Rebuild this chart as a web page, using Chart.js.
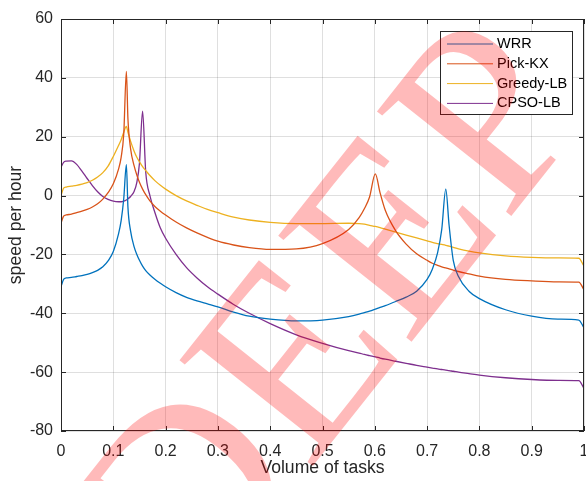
<!DOCTYPE html>
<html>
<head>
<meta charset="utf-8">
<script src="https://cdn.jsdelivr.net/npm/chart.js@4.4.0/dist/chart.umd.min.js"></script>
<style>
  html, body { margin: 0; padding: 0; background: #fff; }
</style>
</head>
<body>
<canvas id="myChart" width="586" height="481"></canvas>
<script>
// Data
const xValues = [0, 0.005, 0.01, 0.02, 0.03, 0.04, 0.05, 0.06, 0.07, 0.08, 0.09, 0.1, 0.11, 0.115, 0.12, 0.125, 0.128, 0.133, 0.14, 0.145, 0.15, 0.156, 0.162, 0.17, 0.18, 0.19, 0.2, 0.22, 0.24, 0.26, 0.28, 0.3, 0.33, 0.36, 0.4, 0.45, 0.5, 0.55, 0.57, 0.58, 0.59, 0.601, 0.61, 0.62, 0.64, 0.66, 0.68, 0.7, 0.71, 0.72, 0.728, 0.7357, 0.742, 0.75, 0.76, 0.78, 0.8, 0.85, 0.9, 0.95, 0.99, 1];

const wrr = [-31, -28.5, -28, -27.8, -27.5, -27.2, -26.8, -26.2, -25.4, -24.2, -22.2, -19, -13, -8.5, -1, 10.5, -4, -12, -17.5, -20, -22, -24, -25.5, -27, -28.5, -29.8, -31, -33, -34.6, -35.8, -36.8, -37.8, -39.6, -41, -42, -42.6, -42.3, -41.1, -40.3, -39.8, -39.3, -38.6, -38, -37.4, -36, -34.5, -32.5, -28.5, -25, -19.5, -11.5, 2.2, -10, -22, -27.5, -32.5, -35, -38.8, -41, -42, -42.3, -45];

const pickKX = [-9.4, -7, -6.6, -6.3, -5.8, -5.3, -4.7, -3.9, -2.8, -1.2, 1, 4, 9, 13, 21, 42.2, 26, 16, 10, 7, 4.5, 2.2, 0.3, -1.8, -3.8, -5.3, -6.6, -9, -11, -12.7, -14.2, -15.5, -16.8, -17.7, -18.3, -18.1, -16.3, -11.5, -7.5, -4.5, -0.5, 7.4, 1, -5, -12, -16.5, -19.8, -22, -23, -23.7, -24.2, -24.6, -24.9, -25.3, -25.8, -26.6, -27.4, -28.5, -29, -29.3, -29.4, -32];

const greedyLB = [0, 2.5, 2.9, 3.2, 3.5, 3.9, 4.4, 5.2, 6.3, 7.8, 10, 13.3, 17, 19, 21.5, 23.5, 21.5, 18.5, 15, 13, 11.5, 9.8, 8.5, 6.8, 5, 3.5, 2.2, 0, -1.8, -3.3, -4.7, -5.8, -7.3, -8.3, -9.1, -9.5, -9.5, -9.4, -9.5, -9.7, -10.1, -10.5, -10.9, -11.4, -12.4, -13.4, -14.4, -15.4, -15.9, -16.3, -16.6, -16.9, -17.2, -17.6, -18.1, -18.9, -19.5, -20.5, -21, -21.2, -21.3, -24];

const cpsoLB = [9.6, 11.3, 11.7, 11.8, 10.6, 8.3, 5.8, 3.4, 1.3, -0.3, -1.3, -1.9, -2.1, -2.1, -1.9, -1.5, -1.1, -0.3, 1.5, 4.5, 11, 28.7, 8, 0, -6, -11, -14.5, -20, -24.5, -28, -31, -33.5, -37, -40, -43.5, -47.3, -50.2, -52.7, -53.5, -54, -54.4, -54.8, -55.2, -55.6, -56.3, -57, -57.7, -58.3, -58.6, -58.9, -59.1, -59.3, -59.5, -59.7, -60, -60.5, -61, -61.9, -62.5, -62.8, -62.9, -65.5];

const seriesNames = ['WRR', 'Pick-KX', 'Greedy-LB', 'CPSO-LB'];
const seriesColors = ['#0072BD', '#D95319', '#EDB120', '#7E2F8E'];
const xTicks = [0, 0.1, 0.2, 0.3, 0.4, 0.5, 0.6, 0.7, 0.8, 0.9, 1];
const yTicks = [-80, -60, -40, -20, 0, 20, 40, 60];

const FONT = '"Liberation Sans", Arial, sans-serif';
const INK = '#262626';

function toPoints(ys) {
  return xValues.map((x, i) => ({ x: x, y: ys[i] }));
}

// MATLAB style box with inward ticks, plus the legend
const axesBox = {
  id: 'axesBox',
  afterDatasetsDraw(chart) {
    const { ctx, chartArea: a, scales } = chart;
    ctx.save();
    ctx.strokeStyle = INK;
    ctx.lineWidth = 1;
    ctx.strokeRect(a.left + 0.5, a.top + 0.5, a.right - a.left - 1, a.bottom - a.top - 1);
    ctx.beginPath();
    xTicks.forEach(v => {
      const px = Math.round(scales.x.getPixelForValue(v)) + 0.5;
      ctx.moveTo(px, a.bottom); ctx.lineTo(px, a.bottom - 5);
      ctx.moveTo(px, a.top); ctx.lineTo(px, a.top + 5);
    });
    yTicks.forEach(v => {
      const py = Math.round(scales.y.getPixelForValue(v)) + 0.5;
      ctx.moveTo(a.left, py); ctx.lineTo(a.left + 5, py);
      ctx.moveTo(a.right, py); ctx.lineTo(a.right - 5, py);
    });
    ctx.stroke();

    // legend box
    const lx = 440.5, ly = 31.5, lw = 132, lh = 83;
    ctx.fillStyle = '#fff';
    ctx.fillRect(lx, ly, lw, lh);
    ctx.strokeRect(lx, ly, lw, lh);
    ctx.font = '14.5px ' + FONT;
    ctx.textBaseline = 'middle';
    ctx.textAlign = 'left';
    chart.data.datasets.forEach((ds, i) => {
      const ry = 44 + i * 19.8;
      ctx.strokeStyle = ds.borderColor;
      ctx.beginPath();
      ctx.moveTo(447, ry); ctx.lineTo(493, ry);
      ctx.stroke();
      ctx.fillStyle = '#000';
      ctx.fillText(ds.label, 497, ry);
    });
    ctx.restore();
  }
};

// red watermark over the whole figure
const watermark = {
  id: 'watermark',
  afterDraw(chart) {
    const { ctx } = chart;
    ctx.save();
    ctx.translate(340, 322);
    ctx.rotate(-0.9);
    ctx.fillStyle = 'rgba(255, 0, 0, 0.27)';
    ctx.font = '260px "Liberation Serif", serif';
    ctx.textAlign = 'center';
    ctx.textBaseline = 'middle';
    ctx.fillText('DEEP', 0, 0);
    ctx.restore();
  }
};

const ctx = document.getElementById('myChart').getContext('2d');

new Chart(ctx, {
  type: 'line',
  data: {
    datasets: [wrr, pickKX, greedyLB, cpsoLB].map((ys, i) => ({
      label: seriesNames[i],
      data: toPoints(ys),
      borderColor: seriesColors[i],
      borderWidth: 1.3,
      pointRadius: 0,
      fill: false,
      cubicInterpolationMode: 'monotone'
    }))
  },
  options: {
    responsive: false,
    animation: false,
    layout: { padding: { top: 19, right: 2, left: 0, bottom: 0 } },
    plugins: {
      legend: { display: false },
      tooltip: { enabled: false }
    },
    scales: {
      x: {
        type: 'linear',
        min: 0,
        max: 1,
        afterBuildTicks: s => { s.ticks = xTicks.map(v => ({ value: v })); },
        afterFit: s => { s.height = 50; s.paddingLeft = 0; s.paddingRight = 0; },
        ticks: {
          autoSkip: false,
          maxRotation: 0,
          padding: 11,
          color: INK,
          font: { family: FONT, size: 16 },
          callback: v => String(+v.toFixed(1))
        },
        grid: { color: 'rgba(38,38,38,0.15)', drawTicks: false },
        border: { display: false },
        title: {
          display: true,
          text: 'Volume of tasks',
          color: INK,
          font: { family: FONT, size: 17.6 },
          padding: { top: 0, bottom: 2 }
        }
      },
      y: {
        min: -80,
        max: 60,
        afterBuildTicks: s => { s.ticks = yTicks.map(v => ({ value: v })); },
        afterFit: s => { s.width = 61; s.paddingTop = 0; s.paddingBottom = 0; },
        ticks: {
          padding: 8,
          color: INK,
          font: { family: FONT, size: 16 }
        },
        grid: { color: 'rgba(38,38,38,0.15)', drawTicks: false },
        border: { display: false },
        title: {
          display: true,
          text: 'speed per hour',
          color: INK,
          font: { family: FONT, size: 17.6 },
          padding: { top: 6, bottom: 0 }
        }
      }
    }
  },
  plugins: [axesBox, watermark]
});
</script>
</body>
</html>
